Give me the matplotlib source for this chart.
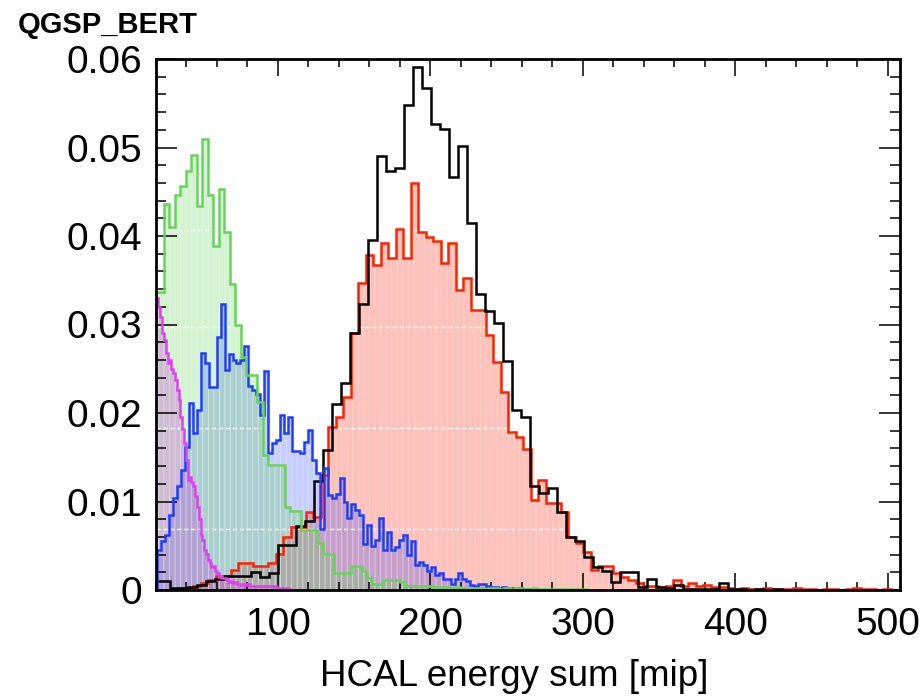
import numpy as np
import matplotlib
matplotlib.use("Agg")
import matplotlib.pyplot as plt
from matplotlib.ticker import MultipleLocator, FuncFormatter

plt.rcParams['font.family'] = ['Liberation Sans', 'DejaVu Sans']
plt.rcParams['hatch.linewidth'] = 0.6

# bin widths / first edge of every histogram (mip)
black_w, black_lo = 5.9, 17.7
red_w, red_lo = 4.92, 19.68
green_w, green_lo = 3.6, 18.0
blue_w, blue_lo = 2.6, 20.8
mag_w, mag_lo = 1.2, 19.2

black_vals = [
    0.0010, 0.0010, 0.0002, 0.0002, 0.0003, 0.0006, 0.0010, 0.0012, 0.0016, 0.0016,
    0.0016, 0.0020, 0.0015, 0.0019, 0.0051, 0.0051, 0.0072, 0.0078, 0.0123, 0.0158,
    0.0210, 0.0234, 0.0290, 0.0323, 0.0395, 0.0490, 0.0473, 0.0477, 0.0548, 0.0591,
    0.0567, 0.0526, 0.0521, 0.0467, 0.0502, 0.0415, 0.0335, 0.0315, 0.0302, 0.0259,
    0.0203, 0.0195, 0.0117, 0.0110, 0.0115, 0.0088, 0.0060, 0.0055, 0.0037, 0.0026,
    0.0021, 0.0009, 0.0020, 0.0020, 0.0003, 0.0012, 0.0003, 0.0002, 0.0006, 0.0001,
    0.0001, 0.0001, 0.0001, 0.0008, 0.0001, 0.0001, 0.0000, 0.0001, 0.0000, 0.0001,
]

red_vals = [
    0.0000, 0.0000, 0.0000, 0.0002, 0.0002, 0.0004, 0.0008, 0.0011, 0.0016, 0.0016,
    0.0023, 0.0030, 0.0030, 0.0027, 0.0027, 0.0030, 0.0041, 0.0060, 0.0071, 0.0071,
    0.0088, 0.0082, 0.0130, 0.0184, 0.0195, 0.0218, 0.0290, 0.0347, 0.0379, 0.0367,
    0.0392, 0.0375, 0.0408, 0.0375, 0.0460, 0.0404, 0.0399, 0.0394, 0.0369, 0.0392,
    0.0339, 0.0352, 0.0316, 0.0316, 0.0288, 0.0258, 0.0224, 0.0178, 0.0173, 0.0159,
    0.0102, 0.0124, 0.0098, 0.0098, 0.0088, 0.0060, 0.0053, 0.0043, 0.0023, 0.0027,
    0.0027, 0.0019, 0.0015, 0.0011, 0.0008, 0.0005, 0.0004, 0.0003, 0.0005, 0.0011,
    0.0005, 0.0008, 0.0005, 0.0006, 0.0003, 0.0003, 0.0002, 0.0001, 0.0002, 0.0001,
    0.0001, 0.0002, 0.0001, 0.0001, 0.0001, 0.0002, 0.0001, 0.0001, 0.0000, 0.0001,
    0.0001, 0.0000, 0.0001, 0.0002, 0.0001, 0.0001, 0.0000, 0.0001,
]

green_vals = [
    0.0337, 0.0337, 0.0436, 0.0410, 0.0446, 0.0457, 0.0474, 0.0491, 0.0434, 0.0510,
    0.0446, 0.0389, 0.0453, 0.0405, 0.0346, 0.0299, 0.0263, 0.0243, 0.0243, 0.0212,
    0.0153, 0.0141, 0.0141, 0.0141, 0.0094, 0.0089, 0.0089, 0.0068, 0.0068, 0.0068,
    0.0053, 0.0041, 0.0041, 0.0019, 0.0019, 0.0019, 0.0027, 0.0027, 0.0022, 0.0013,
    0.0007, 0.0007, 0.0011, 0.0011, 0.0011, 0.0009, 0.0005, 0.0005, 0.0005, 0.0004,
    0.0004, 0.0003, 0.0003, 0.0003, 0.0002, 0.0003, 0.0002, 0.0002, 0.0002, 0.0002,
    0.0001, 0.0002, 0.0002, 0.0001, 0.0002, 0.0001, 0.0002, 0.0001, 0.0001, 0.0002,
    0.0001, 0.0001, 0.0001, 0.0001, 0.0001, 0.0001, 0.0001, 0.0001, 0.0001,
]

blue_vals = [
    0.0045, 0.0055, 0.0062, 0.0085, 0.0104, 0.0117, 0.0136, 0.0162, 0.0211, 0.0177,
    0.0203, 0.0268, 0.0256, 0.0229, 0.0229, 0.0286, 0.0323, 0.0249, 0.0267, 0.0260,
    0.0256, 0.0260, 0.0276, 0.0230, 0.0226, 0.0222, 0.0198, 0.0248, 0.0155, 0.0166,
    0.0170, 0.0198, 0.0177, 0.0196, 0.0157, 0.0157, 0.0155, 0.0167, 0.0181, 0.0147,
    0.0132, 0.0069, 0.0138, 0.0107, 0.0104, 0.0109, 0.0126, 0.0100, 0.0081, 0.0097,
    0.0090, 0.0085, 0.0052, 0.0074, 0.0050, 0.0057, 0.0081, 0.0045, 0.0065, 0.0045,
    0.0049, 0.0057, 0.0062, 0.0040, 0.0055, 0.0028, 0.0032, 0.0028, 0.0021, 0.0026,
    0.0017, 0.0019, 0.0012, 0.0012, 0.0007, 0.0012, 0.0019, 0.0012, 0.0010, 0.0006,
    0.0005, 0.0007, 0.0007, 0.0004, 0.0003, 0.0003, 0.0002, 0.0003, 0.0002, 0.0002,
    0.0001, 0.0002, 0.0001, 0.0001,
]

mag_vals = [
    0.0326, 0.0330, 0.0320, 0.0309, 0.0290, 0.0282, 0.0268, 0.0256, 0.0260, 0.0250,
    0.0245, 0.0237, 0.0226, 0.0215, 0.0196, 0.0182, 0.0166, 0.0147, 0.0124, 0.0128,
    0.0122, 0.0117, 0.0106, 0.0094, 0.0080, 0.0062, 0.0056, 0.0045, 0.0041, 0.0034,
    0.0030, 0.0026, 0.0027, 0.0021, 0.0019, 0.0015, 0.0016, 0.0013, 0.0013, 0.0012,
    0.0009, 0.0010, 0.0009, 0.0008, 0.0009, 0.0007, 0.0007, 0.0006, 0.0007, 0.0007,
    0.0006, 0.0007, 0.0005, 0.0005, 0.0004, 0.0005, 0.0005, 0.0004, 0.0005, 0.0005,
    0.0004, 0.0005, 0.0004, 0.0005, 0.0004, 0.0005, 0.0003, 0.0002, 0.0002, 0.0002,
    0.0002, 0.0001, 0.0002, 0.0001,
]

# white dashed lines seen across the filled areas
dash_levels = [0.0069, 0.0183, 0.0297, 0.0407]


def edges(lo, w, vals):
    return lo + w * np.arange(len(vals) + 1)


fig = plt.figure(figsize=(9.21, 7.0), dpi=100)
ax = fig.add_axes([156 / 921, 1 - 590 / 700, 744 / 921, 531 / 700])

# fills, with a faint vertical stripe like the ROOT fill pattern
fills = [
    (red_vals, red_lo, red_w, (1.0, 0.25, 0.15, 0.32)),
    (blue_vals, blue_lo, blue_w, (0.1, 0.2, 1.0, 0.24)),
    (green_vals, green_lo, green_w, (0.35, 0.82, 0.3, 0.26)),
    (mag_vals, mag_lo, mag_w, (0.75, 0.2, 0.85, 0.28)),
]
for vals, lo, w, col in fills:
    ax.stairs(vals, edges(lo, w, vals), fill=True, facecolor=col,
              edgecolor=(1, 1, 1, 0.35), hatch='|||', lw=0, zorder=1)

for lev in dash_levels:
    ax.axhline(lev, color='white', lw=1.0, ls=(0, (3, 2)), zorder=1.2)

# outlines
lw = 1.8
ax.stairs(red_vals, edges(red_lo, red_w, red_vals), color='#ff2200', lw=lw, zorder=3)
ax.stairs(black_vals, edges(black_lo, black_w, black_vals), color='black', lw=lw, zorder=3)
ax.stairs(blue_vals, edges(blue_lo, blue_w, blue_vals), color='#1f3cff', lw=lw, zorder=3)
ax.stairs(green_vals, edges(green_lo, green_w, green_vals), color='#66d45a', lw=lw, zorder=3)
ax.stairs(mag_vals, edges(mag_lo, mag_w, mag_vals), color='#e040f0', lw=lw, zorder=3)

ax.set_xlim(20, 508)
ax.set_ylim(0, 0.06)

ax.xaxis.set_major_locator(MultipleLocator(100))
ax.xaxis.set_minor_locator(MultipleLocator(20))
ax.yaxis.set_major_locator(MultipleLocator(0.01))
ax.yaxis.set_minor_locator(MultipleLocator(0.002))
ax.yaxis.set_major_formatter(FuncFormatter(lambda v, p: '0' if abs(v) < 1e-9 else '%.2f' % v))
ax.xaxis.set_major_formatter(FuncFormatter(lambda v, p: '%d' % v))

ax.tick_params(which='both', direction='in', top=True, right=True, width=1.1, colors='black')
ax.tick_params(axis='y', which='major', length=15, pad=10, labelsize=28)
ax.tick_params(axis='y', which='minor', length=7.5)
ax.tick_params(axis='x', which='major', length=12, pad=12, labelsize=28)
ax.tick_params(axis='x', which='minor', length=6)
ax.set_axisbelow(False)
for s in ax.spines.values():
    s.set_linewidth(2)
    s.set_zorder(4)

fig.text(18 / 921, 1 - 33 / 700, 'QGSP_BERT', fontsize=21, fontweight='bold', va='baseline')
fig.text(514 / 921, 1 - 686 / 700, 'HCAL energy sum [mip]', fontsize=26.5, ha='center', va='baseline')

fig.savefig('out.png', dpi=100)
